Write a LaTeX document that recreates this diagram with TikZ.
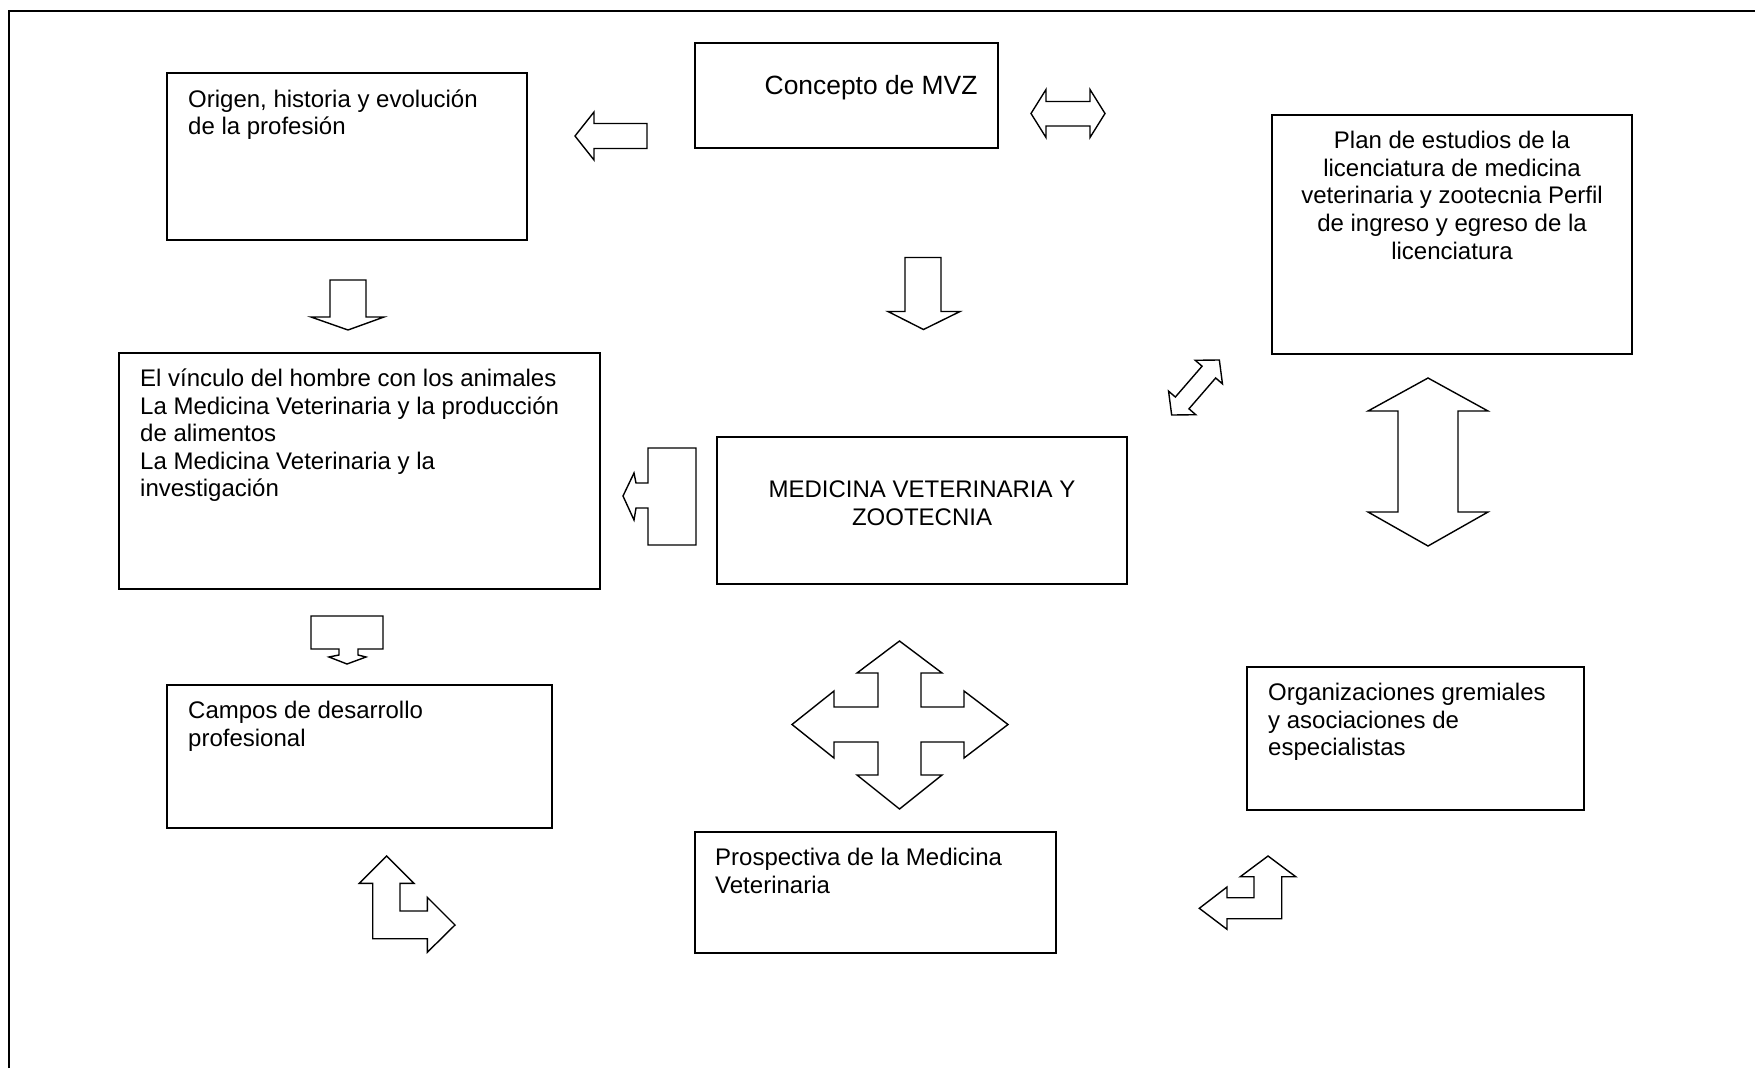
\documentclass[tikz,border=0pt]{standalone}
\usepackage{fontspec}
\setmainfont{Liberation Sans}
\begin{document}
\begin{tikzpicture}[x=1pt,y=-1pt,
  box/.style={draw, line width=1.5pt, inner sep=0pt, outer sep=0pt},
  blk/.style={draw, line width=1.4pt, line join=miter},
  txt/.style={inner sep=0pt, anchor=north west, align=left, font=\fontsize{24}{27.6}\selectfont},
  ctxt/.style={inner sep=0pt, anchor=north, align=center, font=\fontsize{24}{27.6}\selectfont}]
\useasboundingbox (0,0) rectangle (1755,1068);
% frame
\draw[line width=2.2pt] (9,1068) -- (9,11) -- (1755,11);

% boxes
\node[box, minimum width=360pt, minimum height=167pt] (origen) at (347,156.5) {};
\node[box, minimum width=303pt, minimum height=105pt] (concepto) at (846.5,95.5) {};
\node[box, minimum width=360pt, minimum height=239pt] (plan) at (1452,234.5) {};
\node[box, minimum width=481pt, minimum height=236pt] (vinculo) at (359.5,471) {};
\node[box, minimum width=410pt, minimum height=147pt] (mvz) at (922,510.5) {};
\node[box, minimum width=385pt, minimum height=143pt] (campos) at (359.5,756.5) {};
\node[box, minimum width=337pt, minimum height=143pt] (orgs) at (1415.5,738.5) {};
\node[box, minimum width=361pt, minimum height=121pt] (prosp) at (875.5,892.5) {};

% texts
\node[txt] (torigen) at (188,88) {\rule{0pt}{19pt}Origen, historia y evolución\\de la profesión};
\node[inner sep=0pt, anchor=base west, font=\fontsize{26.4}{30}\selectfont] (tconcepto) at (764.5,94) {Concepto de MVZ};
\node[ctxt] (tplan) at (1452,129.5) {\rule{0pt}{19pt}Plan de estudios de la\\licenciatura de medicina\\veterinaria y zootecnia Perfil\\de ingreso y egreso de la\\licenciatura};
\node[txt] (tvinculo) at (140,367.3) {\rule{0pt}{19pt}El vínculo del hombre con los animales\\La Medicina Veterinaria y la producción\\de alimentos\\La Medicina Veterinaria y la\\investigación};
\node[ctxt] (tmvz) at (922,478.3) {\rule{0pt}{19pt}MEDICINA VETERINARIA Y\\ZOOTECNIA};
\node[txt] (tcampos) at (188,699.3) {\rule{0pt}{19pt}Campos de desarrollo\\profesional};
\node[txt] (torgs) at (1268,681.3) {\rule{0pt}{19pt}Organizaciones gremiales\\y asociaciones de\\especialistas};
\node[txt] (tprosp) at (715,846.3) {\rule{0pt}{19pt}Prospectiva de la Medicina\\Veterinaria};

% block arrows
% left arrow next to Concepto
\draw[blk] (575,136) -- (594,112) -- (594,123.5) -- (647,123.5) -- (647,148.5) -- (594,148.5) -- (594,160) -- cycle;
% horizontal double arrow
\draw[blk] (1031,113.5) -- (1046,89.5) -- (1046,101.5) -- (1090,101.5) -- (1090,89.5) -- (1105,113.5) -- (1090,137.5) -- (1090,126) -- (1046,126) -- (1046,137.5) -- cycle;
% down arrow under Concepto
\draw[blk] (905,257.5) -- (941,257.5) -- (941,311.5) -- (960,311.5) -- (923.5,329.5) -- (888,311.5) -- (905,311.5) -- cycle;
% down arrow under Origen
\draw[blk] (330,280) -- (366,280) -- (366,317) -- (384,317) -- (348,330) -- (311,317) -- (330,317) -- cycle;
% left callout arrow
\draw[blk] (648,448) -- (696,448) -- (696,545) -- (648,545) -- (648,508) -- (636,508) -- (634,520) -- (623,496) -- (634,473) -- (636,483) -- (648,483) -- cycle;
% down callout arrow
\draw[blk] (311,616) -- (383,616) -- (383,649) -- (358,649) -- (358,655) -- (366,657) -- (347,664) -- (329,657) -- (339,655) -- (339,649) -- (311,649) -- cycle;
% diagonal double arrow
\begin{scope}[shift={(1195.5,387.5)}, rotate=49.1]
\draw[blk] (-36.4,0) -- (-20.4,18) -- (-20.4,9) -- (20.4,9) -- (20.4,18) -- (36.4,0) -- (20.4,-18) -- (20.4,-9) -- (-20.4,-9) -- (-20.4,-18) -- cycle;
\end{scope}
% vertical double arrow
\draw[blk] (1428,378) -- (1488,411) -- (1458,411) -- (1458,512) -- (1488,512) -- (1428,546) -- (1368,512) -- (1398,512) -- (1398,411) -- (1368,411) -- cycle;
% four-way arrow
\draw[blk] (899.5,641) -- (942,673) -- (921,673) -- (921,707) -- (964,707) -- (964,691) -- (1008,724.5) -- (964,758) -- (964,742) -- (921,742) -- (921,775) -- (942,775) -- (899.5,809) -- (857,775) -- (878,775) -- (878,742) -- (834,742) -- (834,758) -- (792,724.5) -- (834,691) -- (834,707) -- (878,707) -- (878,673) -- (857,673) -- cycle;
% bent arrow up/right
\draw[blk] (386.7,856) -- (414,883.3) -- (400,883.3) -- (400,911) -- (427.3,911) -- (427.3,897.3) -- (455,925) -- (427.3,952.3) -- (427.3,938.7) -- (372.7,938.7) -- (372.7,883.3) -- (359.3,883.3) -- cycle;
% bent arrow up/left
\draw[blk] (1268,856) -- (1295.7,876.7) -- (1281.7,876.7) -- (1281.7,918.7) -- (1227,918.7) -- (1227,929.3) -- (1199.3,908.3) -- (1227,887) -- (1227,897.7) -- (1254,897.7) -- (1254,876.7) -- (1240.3,876.7) -- cycle;
\end{tikzpicture}
\end{document}
